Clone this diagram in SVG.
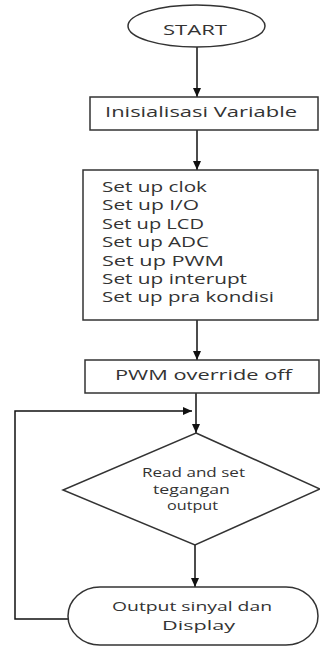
<svg xmlns="http://www.w3.org/2000/svg" width="320" height="646" viewBox="0 0 320 646">
<style>
.s{fill:#fff;stroke:#333;stroke-width:1.5}
.c{fill:none;stroke:#111;stroke-width:1.5}
text{font-family:"Open Sans","Noto Sans","Liberation Sans",sans-serif;fill:#333}
.m{font-size:15px}
.o{font-size:13.5px}
.d{font-size:13px}
</style>
<defs>
<marker id="ah" markerWidth="9" markerHeight="8" refX="9" refY="4" orient="auto" markerUnits="userSpaceOnUse">
<path d="M0,0 L9,4 L0,8 Z" fill="#111"/>
</marker>
</defs>
<rect width="320" height="646" fill="#fff"/>
<g id="connectors">
<line class="c" x1="197" y1="47" x2="197" y2="97" marker-end="url(#ah)"/>
<line class="c" x1="197" y1="130" x2="197" y2="170" marker-end="url(#ah)"/>
<line class="c" x1="197" y1="320" x2="197" y2="360" marker-end="url(#ah)"/>
<line class="c" x1="196" y1="393" x2="196" y2="433" marker-end="url(#ah)"/>
<line class="c" x1="195" y1="545" x2="195" y2="587" marker-end="url(#ah)"/>
<polyline class="c" points="68,619 15,619 15,411 192,411" marker-end="url(#ah)"/>
</g>
<g id="start">
<ellipse class="s" cx="196.5" cy="26" rx="68.5" ry="21"/>
<text class="m" x="163" y="35" textLength="64" lengthAdjust="spacingAndGlyphs">START</text>
</g>
<g id="init">
<rect class="s" x="90" y="97" width="228" height="33"/>
<text class="m" x="105" y="117" textLength="192" lengthAdjust="spacingAndGlyphs">Inisialisasi Variable</text>
</g>
<g id="setup">
<rect class="s" x="83" y="170" width="235" height="150"/>
<text class="m" x="102" y="192" textLength="105" lengthAdjust="spacingAndGlyphs">Set up clok</text>
<text class="m" x="102" y="210.4" textLength="97" lengthAdjust="spacingAndGlyphs">Set up I/O</text>
<text class="m" x="102" y="228.8" textLength="102" lengthAdjust="spacingAndGlyphs">Set up LCD</text>
<text class="m" x="102" y="247.2" textLength="107" lengthAdjust="spacingAndGlyphs">Set up ADC</text>
<text class="m" x="102" y="265.6" textLength="122" lengthAdjust="spacingAndGlyphs">Set up PWM</text>
<text class="m" x="102" y="284" textLength="145" lengthAdjust="spacingAndGlyphs">Set up interupt</text>
<text class="m" x="102" y="302.4" textLength="172" lengthAdjust="spacingAndGlyphs">Set up pra kondisi</text>
</g>
<g id="pwm">
<rect class="s" x="85" y="360" width="234" height="33"/>
<text class="m" x="115" y="380" textLength="177" lengthAdjust="spacingAndGlyphs">PWM override off</text>
</g>
<g id="read">
<polygon class="s" points="196,433 320,489 195,545 63,490"/>
<text class="d" x="142" y="477" textLength="103" lengthAdjust="spacingAndGlyphs">Read and set</text>
<text class="d" x="153" y="493.5" textLength="77" lengthAdjust="spacingAndGlyphs">tegangan</text>
<text class="d" x="167" y="510" textLength="51" lengthAdjust="spacingAndGlyphs">output</text>
</g>
<g id="output">
<rect class="s" x="68" y="587" width="250" height="58" rx="32" ry="29"/>
<text class="o" x="112" y="611" textLength="160" lengthAdjust="spacingAndGlyphs">Output sinyal dan</text>
<text class="o" x="162" y="630" textLength="73" lengthAdjust="spacingAndGlyphs">Display</text>
</g>
</svg>
